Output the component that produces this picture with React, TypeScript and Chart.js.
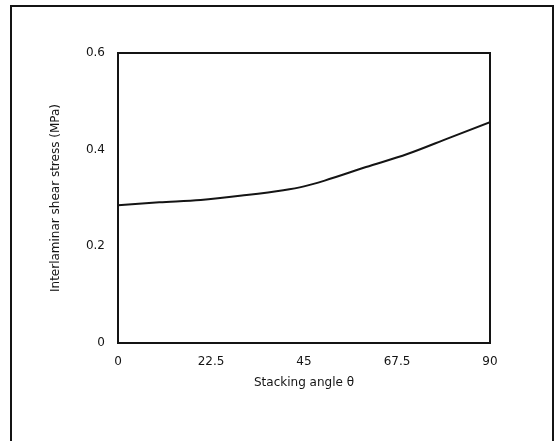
import React, { useEffect, useRef } from "react";
import { Chart, registerables } from "chart.js";

Chart.register(...registerables);

const thetas = [0, 10, 20, 30, 40, 45, 50, 60, 70, 80, 90];
const stress = [0.285, 0.291, 0.296, 0.305, 0.316, 0.324, 0.336, 0.364, 0.391, 0.424, 0.457];
const xTickLabels = ["0", "22.5", "45", "67.5", "90"];
const yTickLabels = ["0", "0.2", "0.4", "0.6"];
const xTitle = "Stacking angle \u03b8";
const yTitle = "Interlaminar shear stress (MPa)";

const INK = "#141414";
const FONT = "'DejaVu Sans', sans-serif";

const framePlugin = {
  id: "frame",
  afterDatasetsDraw(chart: any) {
    const { ctx, chartArea } = chart;
    ctx.save();
    ctx.strokeStyle = INK;
    ctx.lineWidth = 2;
    ctx.strokeRect(chartArea.left, chartArea.top, chartArea.right - chartArea.left, chartArea.bottom - chartArea.top);
    ctx.restore();
  },
};

export default function App() {
  const ref = useRef<HTMLCanvasElement>(null);
  useEffect(() => {
    if (!ref.current) return;
    const chart = new Chart(ref.current, {
      type: "line",
      data: {
        datasets: [
          {
            data: thetas.map((t, i) => ({ x: t, y: stress[i] })),
            borderColor: INK,
            borderWidth: 2,
            pointRadius: 0,
            cubicInterpolationMode: "monotone",
            fill: false,
          },
        ],
      },
      options: {
        responsive: false,
        animation: false,
        devicePixelRatio: 1,
        layout: { padding: { left: 0, top: 53, right: 70, bottom: 0 } },
        plugins: { legend: { display: false }, tooltip: { enabled: false } },
        scales: {
          x: {
            type: "linear",
            min: 0,
            max: 90,
            afterFit: (s: any) => {
              s.height = 98;
            },
            afterBuildTicks: (s: any) => {
              s.ticks = [0, 22.5, 45, 67.5, 90].map((v) => ({ value: v }));
            },
            grid: { display: false, drawTicks: false },
            border: { display: false },
            ticks: {
              padding: 12,
              color: INK,
              font: { family: FONT, size: 12 },
              maxRotation: 0,
              callback: (_v: any, i: number) => xTickLabels[i],
            },
            title: {
              display: true,
              text: xTitle,
              color: INK,
              font: { family: FONT, size: 12 },
              padding: { top: 0, bottom: 51 },
            },
          },
          y: {
            type: "linear",
            min: 0,
            max: 0.6,
            afterFit: (s: any) => {
              s.width = 118;
            },
            afterBuildTicks: (s: any) => {
              s.ticks = [0, 0.2, 0.4, 0.6].map((v) => ({ value: v }));
            },
            grid: { display: false, drawTicks: false },
            border: { display: false },
            ticks: {
              padding: 13,
              color: INK,
              font: { family: FONT, size: 12 },
              callback: (_v: any, i: number) => yTickLabels[i],
            },
            title: {
              display: true,
              text: yTitle,
              color: INK,
              font: { family: FONT, size: 12 },
              padding: { top: 49, bottom: 0 },
            },
          },
        },
      },
      plugins: [framePlugin],
    } as any);
    return () => chart.destroy();
  }, []);

  return (
    <div style={{ position: "fixed", left: 0, top: 0, width: 560, height: 441, overflow: "hidden", background: "#fff" }}>
      <div
        style={{
          position: "absolute",
          left: 10,
          top: 5,
          width: 544,
          height: 520,
          borderTop: `2px solid ${INK}`,
          borderLeft: `2px solid ${INK}`,
          borderRight: `2px solid ${INK}`,
          boxSizing: "border-box",
        }}
      />
      <canvas ref={ref} width={560} height={441} style={{ position: "absolute", left: 0, top: 0 }} />
    </div>
  );
}
